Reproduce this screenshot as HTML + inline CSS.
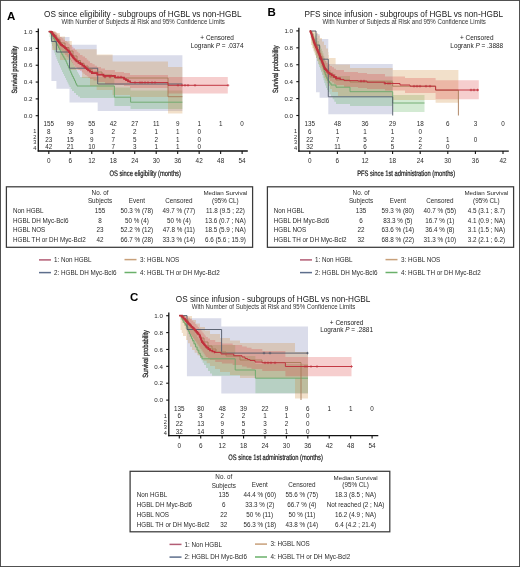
<!DOCTYPE html>
<html><head><meta charset="utf-8"><style>
html,body{margin:0;padding:0;background:#fff;}
svg{display:block;will-change:transform;}
text{font-family:"Liberation Sans", sans-serif;}
</style></head><body>
<svg width="520" height="567" viewBox="0 0 520 567" font-family='"Liberation Sans", sans-serif'>
<rect x="0" y="0" width="520" height="567" fill="#fff"/>
<path d="M51.40,33.00L56.40,33.00L56.40,37.00L69.50,37.00L69.50,44.70L96.70,44.70L96.70,55.30L182.40,55.30L182.40,111.00L97.70,111.00L97.70,102.50L69.50,102.50L69.50,88.70L56.40,88.70L56.40,81.00L51.40,81.00Z" fill="#5560a0" fill-opacity="0.22" stroke="none"/>
<path d="M49.50,31.60L52.00,31.60L52.00,32.00L55.00,32.00L55.00,34.00L56.50,34.00L56.50,36.00L58.00,36.00L58.00,38.00L59.33,38.00L59.33,40.00L60.67,40.00L60.67,42.00L62.00,42.00L62.00,44.00L63.33,44.00L63.33,46.00L64.67,46.00L64.67,48.00L66.00,48.00L66.00,50.00L67.00,50.00L67.00,52.00L68.00,52.00L68.00,54.00L69.00,54.00L69.00,56.00L70.00,56.00L70.00,58.00L71.00,58.00L71.00,60.00L72.00,60.00L72.00,62.00L73.00,62.00L73.00,64.00L74.00,64.00L74.00,66.00L75.00,66.00L75.00,68.00L76.00,68.00L76.00,70.00L77.00,70.00L77.00,71.75L78.00,71.75L78.00,73.50L79.00,73.50L79.00,75.25L80.00,75.25L80.00,77.00L114.40,77.00L114.40,87.60L130.60,87.60L130.60,90.40L182.40,90.40L182.40,109.00L130.60,109.00L130.60,106.00L114.40,106.00L114.40,98.00L80.00,98.00L80.00,96.50L78.00,96.50L78.00,95.00L76.00,95.00L76.00,93.00L74.00,93.00L74.00,91.00L72.00,91.00L72.00,89.00L70.75,89.00L70.75,87.00L69.50,87.00L69.50,85.25L68.62,85.25L68.62,83.50L67.75,83.50L67.75,81.75L66.88,81.75L66.88,80.00L66.00,80.00L66.00,78.00L65.00,78.00L65.00,76.00L64.00,76.00L64.00,74.00L63.00,74.00L63.00,72.00L62.00,72.00L62.00,69.75L61.00,69.75L61.00,67.50L60.00,67.50L60.00,65.25L59.00,65.25L59.00,63.00L58.00,63.00L58.00,61.00L57.25,61.00L57.25,59.00L56.50,59.00L56.50,57.00L55.75,57.00L55.75,55.00L55.00,55.00L55.00,52.75L54.25,52.75L54.25,50.50L53.50,50.50L53.50,48.25L52.75,48.25L52.75,46.00L52.00,46.00L52.00,43.75L51.38,43.75L51.38,41.50L50.75,41.50L50.75,39.25L50.12,39.25L50.12,37.00L49.50,37.00Z" fill="#50aa50" fill-opacity="0.25" stroke="none"/>
<path d="M52.00,31.60L56.00,31.60L56.00,33.00L60.00,33.00L60.00,36.50L65.00,36.50L65.00,41.00L71.80,41.00L71.80,49.20L96.70,49.20L96.70,54.50L112.60,54.50L112.60,61.50L168.00,61.50L168.00,67.00L182.40,67.00L182.40,113.50L168.00,113.50L168.00,97.00L130.00,97.00L130.00,95.00L112.60,95.00L112.60,90.00L96.70,90.00L96.70,86.00L90.00,86.00L90.00,78.00L82.00,78.00L82.00,70.00L70.00,70.00L70.00,60.00L60.00,60.00L60.00,50.00L52.00,50.00Z" fill="#d08c3c" fill-opacity="0.27" stroke="none"/>
<path d="M50.00,31.60L55.00,31.60L55.00,32.00L56.67,32.00L56.67,33.67L58.33,33.67L58.33,35.33L60.00,35.33L60.00,37.00L61.67,37.00L61.67,38.33L63.33,38.33L63.33,39.67L65.00,39.67L65.00,41.00L66.67,41.00L66.67,42.33L68.33,42.33L68.33,43.67L70.00,43.67L70.00,45.00L71.67,45.00L71.67,46.67L73.33,46.67L73.33,48.33L75.00,48.33L75.00,50.00L76.67,50.00L76.67,51.67L78.33,51.67L78.33,53.33L80.00,53.33L80.00,55.00L82.50,55.00L82.50,56.50L85.00,56.50L85.00,58.00L86.67,58.00L86.67,59.67L88.33,59.67L88.33,61.33L90.00,61.33L90.00,63.00L92.33,63.00L92.33,64.33L94.67,64.33L94.67,65.67L97.00,65.67L97.00,67.00L101.00,67.00L101.00,68.50L105.00,68.50L105.00,70.00L115.00,70.00L115.00,72.00L124.00,72.00L124.00,73.00L130.00,73.00L130.00,75.00L168.00,75.00L168.00,77.00L227.80,77.00L227.80,93.60L168.00,93.60L168.00,88.00L130.00,88.00L130.00,86.00L124.00,86.00L124.00,85.00L115.00,85.00L115.00,84.00L105.00,84.00L105.00,82.00L97.00,82.00L97.00,80.50L93.50,80.50L93.50,79.00L90.00,79.00L90.00,77.67L88.33,77.67L88.33,76.33L86.67,76.33L86.67,75.00L85.00,75.00L85.00,73.67L83.33,73.67L83.33,72.33L81.67,72.33L81.67,71.00L80.00,71.00L80.00,69.67L78.33,69.67L78.33,68.33L76.67,68.33L76.67,67.00L75.00,67.00L75.00,65.60L74.00,65.60L74.00,64.20L73.00,64.20L73.00,62.80L72.00,62.80L72.00,61.40L71.00,61.40L71.00,60.00L70.00,60.00L70.00,58.33L68.33,58.33L68.33,56.67L66.67,56.67L66.67,55.00L65.00,55.00L65.00,53.33L63.33,53.33L63.33,51.67L61.67,51.67L61.67,50.00L60.00,50.00L60.00,48.40L59.00,48.40L59.00,46.80L58.00,46.80L58.00,45.20L57.00,45.20L57.00,43.60L56.00,43.60L56.00,42.00L55.00,42.00L55.00,40.50L54.17,40.50L54.17,39.00L53.33,39.00L53.33,37.50L52.50,37.50L52.50,36.00L51.67,36.00L51.67,34.50L50.83,34.50L50.83,33.00L50.00,33.00Z" fill="#dc3c3c" fill-opacity="0.25" stroke="none"/>
<path d="M48.80,31.60H50.50V34.00H51.90V36.25H53.30V38.50H54.35V40.35H55.40V42.20H56.45V44.05H57.50V45.90H58.58V48.02H59.65V50.15H60.72V52.27H61.80V54.40H62.85V56.25H63.90V58.10H64.95V59.95H66.00V61.80H66.80V63.65H67.60V65.50H68.40V67.35H69.20V69.20H70.00V71.05H70.80V72.90H71.60V74.75H72.40V76.60H73.43V78.73H74.47V80.87H75.50V83.00H76.25V84.50H77.00V86.00H114.40V97.20H130.60V102.20H182.40" fill="none" stroke="#6aa86a" stroke-width="0.9" stroke-linejoin="miter"/>
<path d="M48.80,31.60H51.60V41.50H56.40V52.00H69.50V68.20H97.70V84.00H182.40" fill="none" stroke="#505868" stroke-width="0.9" stroke-linejoin="miter"/>
<path d="M48.80,31.60H53.00V35.50H56.50V39.25H60.00V43.00H65.00V47.50H69.00V51.00H73.00V56.00H77.00V60.50H80.50V63.25H84.00V66.00H88.00V69.00H92.00V72.00H102.00V75.00H112.00V76.50H115.00V78.00H168.00V96.70H182.40" fill="none" stroke="#a87a58" stroke-width="0.9" stroke-linejoin="miter"/>
<path d="M48.80,31.60H51.00V32.20H52.00V33.53H53.00V34.85H54.00V36.17H55.00V37.50H55.97V38.72H56.93V39.93H57.90V41.15H58.87V42.37H59.83V43.58H60.80V44.80H62.20V45.90H63.60V47.00H65.00V48.10H66.27V49.37H67.53V50.63H68.80V51.90H69.78V53.25H70.75V54.60H71.72V55.95H72.70V57.30H73.65V58.35H74.60V59.40H75.55V60.45H76.50V61.50H78.45V62.85H80.40V64.20H82.30V65.55H84.20V66.90H85.50V68.07H86.80V69.23H88.10V70.40H90.00V71.75H91.90V73.10H97.30V74.60H103.50V75.80H115.00V77.50H124.00V79.00H126.00V80.17H128.00V81.33H130.00V82.50H168.00V85.30H227.80" fill="none" stroke="#c0303c" stroke-width="0.95" stroke-linejoin="miter"/>
<path d="M48.80,31.60H51.00V32.20H52.00V33.53H53.00V34.85H54.00V36.17H55.00V37.50H55.97V38.72H56.93V39.93H57.90V41.15H58.87V42.37H59.83V43.58H60.80V44.80H62.20V45.90H63.60V47.00H65.00V48.10H66.27V49.37H67.53V50.63H68.80V51.90H69.78V53.25H70.75V54.60H71.72V55.95H72.70V57.30H73.65V58.35H74.60V59.40H75.55V60.45H76.50V61.50H78.45V62.85H80.40V64.20H82.30V65.55H84.20V66.90H85.50V68.07H86.80V69.23H88.10V70.40H90.00V71.75H91.90V73.10H97.30V74.60H103.50V75.80H115.00V77.50H124.00V79.00H126.00V80.17H128.00V81.33H130.00V82.50H130.00" fill="none" stroke="#c0303c" stroke-width="1.7" stroke-linejoin="miter"/>
<path d="M176.70,85.30H179.30M178.00,84.00V86.60" stroke="#c0303c" stroke-width="0.7" fill="none"/>
<path d="M180.70,85.30H183.30M182.00,84.00V86.60" stroke="#c0303c" stroke-width="0.7" fill="none"/>
<path d="M183.70,85.30H186.30M185.00,84.00V86.60" stroke="#c0303c" stroke-width="0.7" fill="none"/>
<path d="M186.70,85.30H189.30M188.00,84.00V86.60" stroke="#c0303c" stroke-width="0.7" fill="none"/>
<path d="M193.70,85.30H196.30M195.00,84.00V86.60" stroke="#c0303c" stroke-width="0.7" fill="none"/>
<path d="M226.70,85.30H229.30M228.00,84.00V86.60" stroke="#c0303c" stroke-width="0.7" fill="none"/>
<path d="M103.70,77.00H106.30M105.00,75.70V78.30" stroke="#c0303c" stroke-width="0.7" fill="none"/>
<path d="M108.70,77.00H111.30M110.00,75.70V78.30" stroke="#c0303c" stroke-width="0.7" fill="none"/>
<path d="M116.70,77.00H119.30M118.00,75.70V78.30" stroke="#c0303c" stroke-width="0.7" fill="none"/>
<path d="M119.70,77.00H122.30M121.00,75.70V78.30" stroke="#c0303c" stroke-width="0.7" fill="none"/>
<path d="M133.70,82.50H136.30M135.00,81.20V83.80" stroke="#c0303c" stroke-width="0.7" fill="none"/>
<path d="M138.70,82.50H141.30M140.00,81.20V83.80" stroke="#c0303c" stroke-width="0.7" fill="none"/>
<path d="M140.70,82.50H143.30M142.00,81.20V83.80" stroke="#c0303c" stroke-width="0.7" fill="none"/>
<path d="M143.70,82.50H146.30M145.00,81.20V83.80" stroke="#c0303c" stroke-width="0.7" fill="none"/>
<path d="M146.70,82.50H149.30M148.00,81.20V83.80" stroke="#c0303c" stroke-width="0.7" fill="none"/>
<path d="M150.70,82.50H153.30M152.00,81.20V83.80" stroke="#c0303c" stroke-width="0.7" fill="none"/>
<path d="M153.70,82.50H156.30M155.00,81.20V83.80" stroke="#c0303c" stroke-width="0.7" fill="none"/>
<text x="6.90" y="20.00" font-size="11.5" font-weight="bold" fill="#000">A</text>
<text x="142.75" y="17.40" font-size="8.55" text-anchor="middle" fill="#1a1a1a" textLength="197.5" lengthAdjust="spacingAndGlyphs">OS since eligibility - subgroups of HGBL vs non-HGBL</text>
<text x="143.15" y="24.40" font-size="6.6" text-anchor="middle" fill="#333" textLength="163.5" lengthAdjust="spacingAndGlyphs">With Number of Subjects at Risk and 95% Confidence Limits</text>
<text x="217.10" y="40.10" font-size="6.45" text-anchor="middle" fill="#1a1a1a">+ Censored</text>
<text x="217.10" y="47.50" font-size="6.45" text-anchor="middle" fill="#1a1a1a">Logrank <tspan font-style="italic">P</tspan> = .0374</text>
<line x1="38.30" y1="28.40" x2="38.30" y2="151.60" stroke="#111" stroke-width="1.3"/>
<line x1="37.70" y1="151.00" x2="247.80" y2="151.00" stroke="#111" stroke-width="1.3"/>
<line x1="35.70" y1="115.70" x2="38.30" y2="115.70" stroke="#111" stroke-width="1.1"/>
<text x="32.40" y="117.90" font-size="6.2" text-anchor="end" fill="#2a2a2a">0.0</text>
<line x1="35.70" y1="98.88" x2="38.30" y2="98.88" stroke="#111" stroke-width="1.1"/>
<text x="32.40" y="101.08" font-size="6.2" text-anchor="end" fill="#2a2a2a">0.2</text>
<line x1="35.70" y1="82.06" x2="38.30" y2="82.06" stroke="#111" stroke-width="1.1"/>
<text x="32.40" y="84.26" font-size="6.2" text-anchor="end" fill="#2a2a2a">0.4</text>
<line x1="35.70" y1="65.24" x2="38.30" y2="65.24" stroke="#111" stroke-width="1.1"/>
<text x="32.40" y="67.44" font-size="6.2" text-anchor="end" fill="#2a2a2a">0.6</text>
<line x1="35.70" y1="48.42" x2="38.30" y2="48.42" stroke="#111" stroke-width="1.1"/>
<text x="32.40" y="50.62" font-size="6.2" text-anchor="end" fill="#2a2a2a">0.8</text>
<line x1="35.70" y1="31.60" x2="38.30" y2="31.60" stroke="#111" stroke-width="1.1"/>
<text x="32.40" y="33.80" font-size="6.2" text-anchor="end" fill="#2a2a2a">1.0</text>
<line x1="48.80" y1="151.00" x2="48.80" y2="154.00" stroke="#111" stroke-width="1.1"/>
<text x="48.80" y="163.10" font-size="6.4" text-anchor="middle" fill="#2a2a2a">0</text>
<line x1="70.28" y1="151.00" x2="70.28" y2="154.00" stroke="#111" stroke-width="1.1"/>
<text x="70.28" y="163.10" font-size="6.4" text-anchor="middle" fill="#2a2a2a">6</text>
<line x1="91.76" y1="151.00" x2="91.76" y2="154.00" stroke="#111" stroke-width="1.1"/>
<text x="91.76" y="163.10" font-size="6.4" text-anchor="middle" fill="#2a2a2a">12</text>
<line x1="113.24" y1="151.00" x2="113.24" y2="154.00" stroke="#111" stroke-width="1.1"/>
<text x="113.24" y="163.10" font-size="6.4" text-anchor="middle" fill="#2a2a2a">18</text>
<line x1="134.72" y1="151.00" x2="134.72" y2="154.00" stroke="#111" stroke-width="1.1"/>
<text x="134.72" y="163.10" font-size="6.4" text-anchor="middle" fill="#2a2a2a">24</text>
<line x1="156.20" y1="151.00" x2="156.20" y2="154.00" stroke="#111" stroke-width="1.1"/>
<text x="156.20" y="163.10" font-size="6.4" text-anchor="middle" fill="#2a2a2a">30</text>
<line x1="177.68" y1="151.00" x2="177.68" y2="154.00" stroke="#111" stroke-width="1.1"/>
<text x="177.68" y="163.10" font-size="6.4" text-anchor="middle" fill="#2a2a2a">36</text>
<line x1="199.16" y1="151.00" x2="199.16" y2="154.00" stroke="#111" stroke-width="1.1"/>
<text x="199.16" y="163.10" font-size="6.4" text-anchor="middle" fill="#2a2a2a">42</text>
<line x1="220.64" y1="151.00" x2="220.64" y2="154.00" stroke="#111" stroke-width="1.1"/>
<text x="220.64" y="163.10" font-size="6.4" text-anchor="middle" fill="#2a2a2a">48</text>
<line x1="242.12" y1="151.00" x2="242.12" y2="154.00" stroke="#111" stroke-width="1.1"/>
<text x="242.12" y="163.10" font-size="6.4" text-anchor="middle" fill="#2a2a2a">54</text>
<text x="145.20" y="175.60" font-size="7.9" text-anchor="middle" fill="#1a1a1a" textLength="71.5" lengthAdjust="spacingAndGlyphs" style="stroke:#1a1a1a;stroke-width:0.22" text-rendering="geometricPrecision">OS since eligibility (months)</text>
<text x="0" y="0" font-size="7.6" text-anchor="middle" fill="#2a2a2a" style="stroke:#2a2a2a;stroke-width:0.28" text-rendering="geometricPrecision" textLength="47.6" lengthAdjust="spacingAndGlyphs" transform="translate(17.20,69.65) rotate(-90)">Survival probability</text>
<text x="48.80" y="126.00" font-size="6.3" text-anchor="middle" fill="#2a2a2a">155</text>
<text x="70.28" y="126.00" font-size="6.3" text-anchor="middle" fill="#2a2a2a">99</text>
<text x="91.76" y="126.00" font-size="6.3" text-anchor="middle" fill="#2a2a2a">55</text>
<text x="113.24" y="126.00" font-size="6.3" text-anchor="middle" fill="#2a2a2a">42</text>
<text x="134.72" y="126.00" font-size="6.3" text-anchor="middle" fill="#2a2a2a">27</text>
<text x="156.20" y="126.00" font-size="6.3" text-anchor="middle" fill="#2a2a2a">11</text>
<text x="177.68" y="126.00" font-size="6.3" text-anchor="middle" fill="#2a2a2a">9</text>
<text x="199.16" y="126.00" font-size="6.3" text-anchor="middle" fill="#2a2a2a">1</text>
<text x="220.64" y="126.00" font-size="6.3" text-anchor="middle" fill="#2a2a2a">1</text>
<text x="242.12" y="126.00" font-size="6.3" text-anchor="middle" fill="#2a2a2a">0</text>
<text x="48.80" y="133.80" font-size="6.3" text-anchor="middle" fill="#2a2a2a">8</text>
<text x="70.28" y="133.80" font-size="6.3" text-anchor="middle" fill="#2a2a2a">3</text>
<text x="91.76" y="133.80" font-size="6.3" text-anchor="middle" fill="#2a2a2a">3</text>
<text x="113.24" y="133.80" font-size="6.3" text-anchor="middle" fill="#2a2a2a">2</text>
<text x="134.72" y="133.80" font-size="6.3" text-anchor="middle" fill="#2a2a2a">2</text>
<text x="156.20" y="133.80" font-size="6.3" text-anchor="middle" fill="#2a2a2a">1</text>
<text x="177.68" y="133.80" font-size="6.3" text-anchor="middle" fill="#2a2a2a">1</text>
<text x="199.16" y="133.80" font-size="6.3" text-anchor="middle" fill="#2a2a2a">0</text>
<text x="48.80" y="141.50" font-size="6.3" text-anchor="middle" fill="#2a2a2a">23</text>
<text x="70.28" y="141.50" font-size="6.3" text-anchor="middle" fill="#2a2a2a">15</text>
<text x="91.76" y="141.50" font-size="6.3" text-anchor="middle" fill="#2a2a2a">9</text>
<text x="113.24" y="141.50" font-size="6.3" text-anchor="middle" fill="#2a2a2a">7</text>
<text x="134.72" y="141.50" font-size="6.3" text-anchor="middle" fill="#2a2a2a">5</text>
<text x="156.20" y="141.50" font-size="6.3" text-anchor="middle" fill="#2a2a2a">2</text>
<text x="177.68" y="141.50" font-size="6.3" text-anchor="middle" fill="#2a2a2a">1</text>
<text x="199.16" y="141.50" font-size="6.3" text-anchor="middle" fill="#2a2a2a">0</text>
<text x="48.80" y="149.20" font-size="6.3" text-anchor="middle" fill="#2a2a2a">42</text>
<text x="70.28" y="149.20" font-size="6.3" text-anchor="middle" fill="#2a2a2a">21</text>
<text x="91.76" y="149.20" font-size="6.3" text-anchor="middle" fill="#2a2a2a">10</text>
<text x="113.24" y="149.20" font-size="6.3" text-anchor="middle" fill="#2a2a2a">7</text>
<text x="134.72" y="149.20" font-size="6.3" text-anchor="middle" fill="#2a2a2a">3</text>
<text x="156.20" y="149.20" font-size="6.3" text-anchor="middle" fill="#2a2a2a">1</text>
<text x="177.68" y="149.20" font-size="6.3" text-anchor="middle" fill="#2a2a2a">1</text>
<text x="199.16" y="149.20" font-size="6.3" text-anchor="middle" fill="#2a2a2a">0</text>
<text x="34.90" y="133.20" font-size="5.6" text-anchor="middle" fill="#2a2a2a">1</text>
<text x="34.90" y="139.00" font-size="5.6" text-anchor="middle" fill="#2a2a2a">2</text>
<text x="34.90" y="144.10" font-size="5.6" text-anchor="middle" fill="#2a2a2a">3</text>
<text x="34.90" y="150.00" font-size="5.6" text-anchor="middle" fill="#2a2a2a">4</text>
<path d="M316.00,34.00L319.60,34.00L319.60,39.10L328.30,39.10L328.30,64.00L392.70,64.00L392.70,114.30L328.30,114.30L328.30,97.80L319.60,97.80L319.60,92.20L316.00,92.20Z" fill="#5560a0" fill-opacity="0.22" stroke="none"/>
<path d="M310.50,31.00L313.00,31.00L313.00,33.00L314.50,33.00L314.50,35.50L316.00,35.50L316.00,38.00L317.50,38.00L317.50,41.00L319.00,41.00L319.00,44.00L320.00,44.00L320.00,46.33L321.00,46.33L321.00,48.67L322.00,48.67L322.00,51.00L322.77,51.00L322.77,53.33L323.53,53.33L323.53,55.67L324.30,55.67L324.30,58.00L325.15,58.00L325.15,60.50L326.00,60.50L326.00,63.00L327.00,63.00L327.00,65.50L328.00,65.50L328.00,68.00L329.50,68.00L329.50,70.00L331.00,70.00L331.00,72.00L333.50,72.00L333.50,74.00L336.00,74.00L336.00,76.00L350.00,76.00L350.00,80.00L392.70,80.00L392.70,95.00L424.50,95.00L424.50,112.00L392.70,112.00L392.70,106.00L350.00,106.00L350.00,104.00L336.00,104.00L336.00,101.67L334.33,101.67L334.33,99.33L332.67,99.33L332.67,97.00L331.00,97.00L331.00,94.50L329.50,94.50L329.50,92.00L328.00,92.00L328.00,90.00L327.00,90.00L327.00,88.00L326.00,88.00L326.00,85.50L325.15,85.50L325.15,83.00L324.30,83.00L324.30,80.33L323.53,80.33L323.53,77.67L322.77,77.67L322.77,75.00L322.00,75.00L322.00,72.33L321.00,72.33L321.00,69.67L320.00,69.67L320.00,67.00L319.00,67.00L319.00,64.00L318.00,64.00L318.00,61.00L317.00,61.00L317.00,58.00L316.00,58.00L316.00,55.50L315.25,55.50L315.25,53.00L314.50,53.00L314.50,50.50L313.75,50.50L313.75,48.00L313.00,48.00L313.00,45.50L312.38,45.50L312.38,43.00L311.75,43.00L311.75,40.50L311.12,40.50L311.12,38.00L310.50,38.00Z" fill="#50aa50" fill-opacity="0.25" stroke="none"/>
<path d="M311.00,31.00L316.00,31.00L316.00,33.00L318.00,33.00L318.00,35.50L320.00,35.50L320.00,38.00L322.00,38.00L322.00,41.50L324.00,41.50L324.00,45.00L326.00,45.00L326.00,48.50L328.00,48.50L328.00,52.00L328.50,52.00L328.50,55.00L329.00,55.00L329.00,58.00L335.60,58.00L335.60,64.50L350.00,64.50L350.00,68.00L392.70,68.00L392.70,69.90L458.40,69.90L458.40,102.80L435.60,102.80L435.60,100.00L392.70,100.00L392.70,96.00L338.00,96.00L338.00,92.00L332.00,92.00L332.00,89.00L330.00,89.00L330.00,86.00L328.00,86.00L328.00,83.33L326.67,83.33L326.67,80.67L325.33,80.67L325.33,78.00L324.00,78.00L324.00,74.67L322.67,74.67L322.67,71.33L321.33,71.33L321.33,68.00L320.00,68.00L320.00,64.67L318.67,64.67L318.67,61.33L317.33,61.33L317.33,58.00L316.00,58.00L316.00,54.75L314.75,54.75L314.75,51.50L313.50,51.50L313.50,48.25L312.25,48.25L312.25,45.00L311.00,45.00Z" fill="#d08c3c" fill-opacity="0.27" stroke="none"/>
<path d="M310.50,31.00L311.38,31.00L311.38,32.50L312.25,32.50L312.25,34.00L313.12,34.00L313.12,35.50L314.00,35.50L314.00,37.00L314.67,37.00L314.67,38.44L315.33,38.44L315.33,39.89L316.00,39.89L316.00,41.33L316.67,41.33L316.67,42.78L317.33,42.78L317.33,44.22L318.00,44.22L318.00,45.67L318.67,45.67L318.67,47.11L319.33,47.11L319.33,48.56L320.00,48.56L320.00,50.00L320.71,50.00L320.71,51.57L321.43,51.57L321.43,53.14L322.14,53.14L322.14,54.71L322.86,54.71L322.86,56.29L323.57,56.29L323.57,57.86L324.29,57.86L324.29,59.43L325.00,59.43L325.00,61.00L326.67,61.00L326.67,62.67L328.33,62.67L328.33,64.33L330.00,64.33L330.00,66.00L332.00,66.00L332.00,67.33L334.00,67.33L334.00,68.67L336.00,68.67L336.00,70.00L344.00,70.00L344.00,72.00L358.00,72.00L358.00,73.00L367.00,73.00L367.00,74.00L385.00,74.00L385.00,76.50L405.00,76.50L405.00,78.00L435.60,78.00L435.60,80.30L478.80,80.30L478.80,99.30L435.60,99.30L435.60,93.00L405.00,93.00L405.00,90.50L385.00,90.50L385.00,89.00L367.00,89.00L367.00,88.00L358.00,88.00L358.00,87.00L344.00,87.00L344.00,85.00L336.00,85.00L336.00,83.67L334.00,83.67L334.00,82.33L332.00,82.33L332.00,81.00L330.00,81.00L330.00,79.33L328.33,79.33L328.33,77.67L326.67,77.67L326.67,76.00L325.00,76.00L325.00,74.56L324.44,74.56L324.44,73.11L323.89,73.11L323.89,71.67L323.33,71.67L323.33,70.22L322.78,70.22L322.78,68.78L322.22,68.78L322.22,67.33L321.67,67.33L321.67,65.89L321.11,65.89L321.11,64.44L320.56,64.44L320.56,63.00L320.00,63.00L320.00,61.44L319.33,61.44L319.33,59.89L318.67,59.89L318.67,58.33L318.00,58.33L318.00,56.78L317.33,56.78L317.33,55.22L316.67,55.22L316.67,53.67L316.00,53.67L316.00,52.11L315.33,52.11L315.33,50.56L314.67,50.56L314.67,49.00L314.00,49.00L314.00,47.50L313.65,47.50L313.65,46.00L313.30,46.00L313.30,44.50L312.95,44.50L312.95,43.00L312.60,43.00L312.60,41.50L312.25,41.50L312.25,40.00L311.90,40.00L311.90,38.50L311.55,38.50L311.55,37.00L311.20,37.00L311.20,35.50L310.85,35.50L310.85,34.00L310.50,34.00Z" fill="#dc3c3c" fill-opacity="0.25" stroke="none"/>
<path d="M309.80,31.00H311.00V34.00H312.00V37.00H313.00V40.00H314.00V42.67H315.00V45.33H316.00V48.00H317.00V50.67H318.00V53.33H319.00V56.00H320.00V58.67H321.00V61.33H322.00V64.00H322.77V66.67H323.53V69.33H324.30V72.00H325.15V74.50H326.00V77.00H327.00V79.00H328.00V81.00H329.50V83.00H331.00V85.00H336.00V87.20H350.00V91.70H392.70V103.00H424.50" fill="none" stroke="#6aa86a" stroke-width="0.9" stroke-linejoin="miter"/>
<path d="M309.80,31.00H316.00V45.10H319.60V59.20H328.30V96.80H392.70V115.50H392.70" fill="none" stroke="#505868" stroke-width="0.9" stroke-linejoin="miter"/>
<path d="M309.80,31.00H311.00V34.00H313.00V39.00H314.50V42.50H316.00V46.00H317.50V49.50H319.00V53.00H320.50V56.50H322.00V60.00H323.00V63.50H324.00V67.00H325.50V70.00H327.00V73.00H330.00V77.00H336.00V80.00H350.00V82.00H392.70V86.20H435.60V90.20H458.40V115.50H458.40" fill="none" stroke="#a87a58" stroke-width="0.9" stroke-linejoin="miter"/>
<path d="M309.80,31.00H310.40V32.00H311.00V33.00H311.40V34.29H311.80V35.58H312.20V36.86H312.60V38.15H313.00V39.44H313.40V40.72H313.80V42.01H314.20V43.30H314.78V44.64H315.36V45.98H315.94V47.32H316.52V48.66H317.10V50.00H317.68V51.34H318.26V52.68H318.84V54.02H319.42V55.36H320.00V56.70H320.48V57.95H320.96V59.20H321.44V60.45H321.92V61.70H322.40V62.95H322.88V64.20H323.36V65.45H323.84V66.70H324.32V67.95H324.80V69.20H326.00V70.40H327.20V71.60H328.40V72.80H329.60V74.00H331.73V75.43H333.87V76.87H336.00V78.30H340.00V79.45H344.00V80.60H358.00V81.10H367.00V82.20H385.00V83.50H400.00V85.00H410.00V86.20H435.60V90.00H478.80" fill="none" stroke="#c0303c" stroke-width="0.95" stroke-linejoin="miter"/>
<path d="M309.80,31.00H310.40V32.00H311.00V33.00H311.40V34.29H311.80V35.58H312.20V36.86H312.60V38.15H313.00V39.44H313.40V40.72H313.80V42.01H314.20V43.30H314.78V44.64H315.36V45.98H315.94V47.32H316.52V48.66H317.10V50.00H317.68V51.34H318.26V52.68H318.84V54.02H319.42V55.36H320.00V56.70H320.48V57.95H320.96V59.20H321.44V60.45H321.92V61.70H322.40V62.95H322.88V64.20H323.36V65.45H323.84V66.70H324.32V67.95H324.80V69.20H326.00V70.40H327.20V71.60H328.40V72.80H329.60V74.00H331.73V75.43H333.87V76.87H336.00V78.30H340.00V79.45H340.00" fill="none" stroke="#c0303c" stroke-width="1.7" stroke-linejoin="miter"/>
<path d="M469.70,90.00H472.30M471.00,88.70V91.30" stroke="#c0303c" stroke-width="0.7" fill="none"/>
<path d="M472.70,90.00H475.30M474.00,88.70V91.30" stroke="#c0303c" stroke-width="0.7" fill="none"/>
<path d="M476.20,90.00H478.80M477.50,88.70V91.30" stroke="#c0303c" stroke-width="0.7" fill="none"/>
<path d="M412.70,86.20H415.30M414.00,84.90V87.50" stroke="#c0303c" stroke-width="0.7" fill="none"/>
<path d="M415.70,86.20H418.30M417.00,84.90V87.50" stroke="#c0303c" stroke-width="0.7" fill="none"/>
<path d="M418.70,86.20H421.30M420.00,84.90V87.50" stroke="#c0303c" stroke-width="0.7" fill="none"/>
<path d="M424.70,86.20H427.30M426.00,84.90V87.50" stroke="#c0303c" stroke-width="0.7" fill="none"/>
<path d="M428.70,86.20H431.30M430.00,84.90V87.50" stroke="#c0303c" stroke-width="0.7" fill="none"/>
<path d="M359.70,81.10H362.30M361.00,79.80V82.40" stroke="#c0303c" stroke-width="0.7" fill="none"/>
<path d="M362.70,81.10H365.30M364.00,79.80V82.40" stroke="#c0303c" stroke-width="0.7" fill="none"/>
<path d="M383.70,83.50H386.30M385.00,82.20V84.80" stroke="#c0303c" stroke-width="0.7" fill="none"/>
<path d="M386.70,83.50H389.30M388.00,82.20V84.80" stroke="#c0303c" stroke-width="0.7" fill="none"/>
<path d="M388.70,83.50H391.30M390.00,82.20V84.80" stroke="#c0303c" stroke-width="0.7" fill="none"/>
<text x="267.60" y="16.30" font-size="11.5" font-weight="bold" fill="#000">B</text>
<text x="403.75" y="17.40" font-size="8.55" text-anchor="middle" fill="#1a1a1a" textLength="198.5" lengthAdjust="spacingAndGlyphs">PFS since infusion - subgroups of HGBL vs non-HGBL</text>
<text x="404.15" y="24.40" font-size="6.6" text-anchor="middle" fill="#333" textLength="163.5" lengthAdjust="spacingAndGlyphs">With Number of Subjects at Risk and 95% Confidence Limits</text>
<text x="476.75" y="40.40" font-size="6.45" text-anchor="middle" fill="#1a1a1a">+ Censored</text>
<text x="476.75" y="47.80" font-size="6.45" text-anchor="middle" fill="#1a1a1a">Logrank <tspan font-style="italic">P</tspan> = .3888</text>
<line x1="298.90" y1="27.70" x2="298.90" y2="151.70" stroke="#111" stroke-width="1.3"/>
<line x1="298.30" y1="151.10" x2="508.80" y2="151.10" stroke="#111" stroke-width="1.3"/>
<line x1="296.30" y1="115.50" x2="298.90" y2="115.50" stroke="#111" stroke-width="1.1"/>
<text x="293.00" y="117.70" font-size="6.2" text-anchor="end" fill="#2a2a2a">0.0</text>
<line x1="296.30" y1="98.58" x2="298.90" y2="98.58" stroke="#111" stroke-width="1.1"/>
<text x="293.00" y="100.78" font-size="6.2" text-anchor="end" fill="#2a2a2a">0.2</text>
<line x1="296.30" y1="81.66" x2="298.90" y2="81.66" stroke="#111" stroke-width="1.1"/>
<text x="293.00" y="83.86" font-size="6.2" text-anchor="end" fill="#2a2a2a">0.4</text>
<line x1="296.30" y1="64.74" x2="298.90" y2="64.74" stroke="#111" stroke-width="1.1"/>
<text x="293.00" y="66.94" font-size="6.2" text-anchor="end" fill="#2a2a2a">0.6</text>
<line x1="296.30" y1="47.82" x2="298.90" y2="47.82" stroke="#111" stroke-width="1.1"/>
<text x="293.00" y="50.02" font-size="6.2" text-anchor="end" fill="#2a2a2a">0.8</text>
<line x1="296.30" y1="30.90" x2="298.90" y2="30.90" stroke="#111" stroke-width="1.1"/>
<text x="293.00" y="33.10" font-size="6.2" text-anchor="end" fill="#2a2a2a">1.0</text>
<line x1="309.80" y1="151.10" x2="309.80" y2="154.10" stroke="#111" stroke-width="1.1"/>
<text x="309.80" y="163.20" font-size="6.4" text-anchor="middle" fill="#2a2a2a">0</text>
<line x1="337.40" y1="151.10" x2="337.40" y2="154.10" stroke="#111" stroke-width="1.1"/>
<text x="337.40" y="163.20" font-size="6.4" text-anchor="middle" fill="#2a2a2a">6</text>
<line x1="365.00" y1="151.10" x2="365.00" y2="154.10" stroke="#111" stroke-width="1.1"/>
<text x="365.00" y="163.20" font-size="6.4" text-anchor="middle" fill="#2a2a2a">12</text>
<line x1="392.60" y1="151.10" x2="392.60" y2="154.10" stroke="#111" stroke-width="1.1"/>
<text x="392.60" y="163.20" font-size="6.4" text-anchor="middle" fill="#2a2a2a">18</text>
<line x1="420.20" y1="151.10" x2="420.20" y2="154.10" stroke="#111" stroke-width="1.1"/>
<text x="420.20" y="163.20" font-size="6.4" text-anchor="middle" fill="#2a2a2a">24</text>
<line x1="447.80" y1="151.10" x2="447.80" y2="154.10" stroke="#111" stroke-width="1.1"/>
<text x="447.80" y="163.20" font-size="6.4" text-anchor="middle" fill="#2a2a2a">30</text>
<line x1="475.40" y1="151.10" x2="475.40" y2="154.10" stroke="#111" stroke-width="1.1"/>
<text x="475.40" y="163.20" font-size="6.4" text-anchor="middle" fill="#2a2a2a">36</text>
<line x1="503.00" y1="151.10" x2="503.00" y2="154.10" stroke="#111" stroke-width="1.1"/>
<text x="503.00" y="163.20" font-size="6.4" text-anchor="middle" fill="#2a2a2a">42</text>
<text x="406.20" y="175.70" font-size="7.9" text-anchor="middle" fill="#1a1a1a" textLength="98.0" lengthAdjust="spacingAndGlyphs" style="stroke:#1a1a1a;stroke-width:0.22" text-rendering="geometricPrecision">PFS since 1st administration (months)</text>
<text x="0" y="0" font-size="7.6" text-anchor="middle" fill="#2a2a2a" style="stroke:#2a2a2a;stroke-width:0.28" text-rendering="geometricPrecision" textLength="47.6" lengthAdjust="spacingAndGlyphs" transform="translate(277.80,69.20) rotate(-90)">Survival probability</text>
<text x="309.80" y="126.00" font-size="6.3" text-anchor="middle" fill="#2a2a2a">135</text>
<text x="337.40" y="126.00" font-size="6.3" text-anchor="middle" fill="#2a2a2a">48</text>
<text x="365.00" y="126.00" font-size="6.3" text-anchor="middle" fill="#2a2a2a">36</text>
<text x="392.60" y="126.00" font-size="6.3" text-anchor="middle" fill="#2a2a2a">29</text>
<text x="420.20" y="126.00" font-size="6.3" text-anchor="middle" fill="#2a2a2a">18</text>
<text x="447.80" y="126.00" font-size="6.3" text-anchor="middle" fill="#2a2a2a">6</text>
<text x="475.40" y="126.00" font-size="6.3" text-anchor="middle" fill="#2a2a2a">3</text>
<text x="503.00" y="126.00" font-size="6.3" text-anchor="middle" fill="#2a2a2a">0</text>
<text x="309.80" y="133.80" font-size="6.3" text-anchor="middle" fill="#2a2a2a">6</text>
<text x="337.40" y="133.80" font-size="6.3" text-anchor="middle" fill="#2a2a2a">1</text>
<text x="365.00" y="133.80" font-size="6.3" text-anchor="middle" fill="#2a2a2a">1</text>
<text x="392.60" y="133.80" font-size="6.3" text-anchor="middle" fill="#2a2a2a">1</text>
<text x="420.20" y="133.80" font-size="6.3" text-anchor="middle" fill="#2a2a2a">0</text>
<text x="309.80" y="141.50" font-size="6.3" text-anchor="middle" fill="#2a2a2a">22</text>
<text x="337.40" y="141.50" font-size="6.3" text-anchor="middle" fill="#2a2a2a">7</text>
<text x="365.00" y="141.50" font-size="6.3" text-anchor="middle" fill="#2a2a2a">5</text>
<text x="392.60" y="141.50" font-size="6.3" text-anchor="middle" fill="#2a2a2a">2</text>
<text x="420.20" y="141.50" font-size="6.3" text-anchor="middle" fill="#2a2a2a">2</text>
<text x="447.80" y="141.50" font-size="6.3" text-anchor="middle" fill="#2a2a2a">1</text>
<text x="475.40" y="141.50" font-size="6.3" text-anchor="middle" fill="#2a2a2a">0</text>
<text x="309.80" y="149.20" font-size="6.3" text-anchor="middle" fill="#2a2a2a">32</text>
<text x="337.40" y="149.20" font-size="6.3" text-anchor="middle" fill="#2a2a2a">11</text>
<text x="365.00" y="149.20" font-size="6.3" text-anchor="middle" fill="#2a2a2a">6</text>
<text x="392.60" y="149.20" font-size="6.3" text-anchor="middle" fill="#2a2a2a">5</text>
<text x="420.20" y="149.20" font-size="6.3" text-anchor="middle" fill="#2a2a2a">2</text>
<text x="447.80" y="149.20" font-size="6.3" text-anchor="middle" fill="#2a2a2a">0</text>
<text x="295.50" y="133.20" font-size="5.6" text-anchor="middle" fill="#2a2a2a">1</text>
<text x="295.50" y="139.00" font-size="5.6" text-anchor="middle" fill="#2a2a2a">2</text>
<text x="295.50" y="144.10" font-size="5.6" text-anchor="middle" fill="#2a2a2a">3</text>
<text x="295.50" y="150.00" font-size="5.6" text-anchor="middle" fill="#2a2a2a">4</text>
<path d="M186.90,318.30L221.30,318.30L221.30,326.50L308.00,326.50L308.00,393.50L221.30,393.50L221.30,376.30L186.90,376.30Z" fill="#5560a0" fill-opacity="0.22" stroke="none"/>
<path d="M180.50,315.60L182.00,315.60L182.00,316.00L185.00,316.00L185.00,318.00L186.50,318.00L186.50,320.00L188.00,320.00L188.00,322.00L189.50,322.00L189.50,324.50L191.00,324.50L191.00,327.00L192.50,327.00L192.50,329.50L194.00,329.50L194.00,332.00L195.50,332.00L195.50,334.50L197.00,334.50L197.00,337.00L198.50,337.00L198.50,339.50L200.00,339.50L200.00,342.00L202.00,342.00L202.00,345.00L235.20,345.00L235.20,356.00L255.40,356.00L255.40,364.00L308.00,364.00L308.00,393.30L255.40,393.30L255.40,375.80L212.00,375.80L212.00,373.40L210.00,373.40L210.00,371.00L208.00,371.00L208.00,368.00L206.00,368.00L206.00,365.00L204.00,365.00L204.00,362.67L202.67,362.67L202.67,360.33L201.33,360.33L201.33,358.00L200.00,358.00L200.00,355.33L198.67,355.33L198.67,352.67L197.33,352.67L197.33,350.00L196.00,350.00L196.00,347.33L194.67,347.33L194.67,344.67L193.33,344.67L193.33,342.00L192.00,342.00L192.00,339.33L190.67,339.33L190.67,336.67L189.33,336.67L189.33,334.00L188.00,334.00L188.00,331.33L186.67,331.33L186.67,328.67L185.33,328.67L185.33,326.00L184.00,326.00L184.00,323.00L182.25,323.00L182.25,320.00L180.50,320.00Z" fill="#50aa50" fill-opacity="0.25" stroke="none"/>
<path d="M180.50,315.60L186.00,315.60L186.00,316.00L192.00,316.00L192.00,320.00L196.00,320.00L196.00,323.50L200.00,323.50L200.00,327.00L205.00,327.00L205.00,330.50L210.00,330.50L210.00,334.00L220.00,334.00L220.00,338.00L230.00,338.00L230.00,340.50L240.00,340.50L240.00,343.00L295.00,343.00L295.00,352.00L308.00,352.00L308.00,398.50L295.00,398.50L295.00,378.00L240.00,378.00L240.00,375.00L230.00,375.00L230.00,372.00L220.00,372.00L220.00,369.00L215.00,369.00L215.00,366.00L210.00,366.00L210.00,363.33L206.67,363.33L206.67,360.67L203.33,360.67L203.33,358.00L200.00,358.00L200.00,355.33L197.33,355.33L197.33,352.67L194.67,352.67L194.67,350.00L192.00,350.00L192.00,346.67L190.00,346.67L190.00,343.33L188.00,343.33L188.00,340.00L186.00,340.00L186.00,336.00L183.00,336.00L183.00,333.00L181.75,333.00L181.75,330.00L180.50,330.00Z" fill="#d08c3c" fill-opacity="0.27" stroke="none"/>
<path d="M180.50,315.60L185.00,315.60L185.00,316.00L187.50,316.00L187.50,317.50L190.00,317.50L190.00,319.00L191.67,319.00L191.67,320.67L193.33,320.67L193.33,322.33L195.00,322.33L195.00,324.00L196.35,324.00L196.35,325.50L197.70,325.50L197.70,327.00L199.05,327.00L199.05,328.50L200.40,328.50L200.40,330.00L201.48,330.00L201.48,331.40L202.56,331.40L202.56,332.80L203.64,332.80L203.64,334.20L204.72,334.20L204.72,335.60L205.80,335.60L205.80,337.00L207.90,337.00L207.90,338.50L210.00,338.50L210.00,340.00L215.20,340.00L215.20,342.00L221.90,342.00L221.90,343.50L232.70,343.50L232.70,345.00L242.10,345.00L242.10,346.50L246.80,346.50L246.80,347.75L251.50,347.75L251.50,349.00L262.30,349.00L262.30,351.00L285.40,351.00L285.40,356.90L351.50,356.90L351.50,376.20L285.40,376.20L285.40,371.00L262.30,371.00L262.30,369.00L251.50,369.00L251.50,367.75L246.80,367.75L246.80,366.50L242.10,366.50L242.10,365.00L232.70,365.00L232.70,363.50L221.90,363.50L221.90,362.00L215.20,362.00L215.20,360.00L210.00,360.00L210.00,358.50L207.90,358.50L207.90,357.00L205.80,357.00L205.80,355.40L204.72,355.40L204.72,353.80L203.64,353.80L203.64,352.20L202.56,352.20L202.56,350.60L201.48,350.60L201.48,349.00L200.40,349.00L200.40,347.40L199.32,347.40L199.32,345.80L198.24,345.80L198.24,344.20L197.16,344.20L197.16,342.60L196.08,342.60L196.08,341.00L195.00,341.00L195.00,339.60L194.00,339.60L194.00,338.20L193.00,338.20L193.00,336.80L192.00,336.80L192.00,335.40L191.00,335.40L191.00,334.00L190.00,334.00L190.00,332.40L189.00,332.40L189.00,330.80L188.00,330.80L188.00,329.20L187.00,329.20L187.00,327.60L186.00,327.60L186.00,326.00L185.00,326.00L185.00,324.40L184.10,324.40L184.10,322.80L183.20,322.80L183.20,321.20L182.30,321.20L182.30,319.60L181.40,319.60L181.40,318.00L180.50,318.00Z" fill="#dc3c3c" fill-opacity="0.25" stroke="none"/>
<path d="M179.30,315.60H182.00V319.00H183.00V321.00H184.00V323.00H185.45V325.00H186.90V327.00H187.77V329.33H188.63V331.67H189.50V334.00H190.50V336.20H191.50V338.40H192.50V340.60H194.00V343.80H195.50V347.00H197.15V350.15H198.80V353.30H200.40V356.05H202.00V358.80H235.20V370.00H255.40V378.20H308.00" fill="none" stroke="#6aa86a" stroke-width="0.9" stroke-linejoin="miter"/>
<path d="M179.30,315.60H187.00V329.50H221.60V353.10H308.00" fill="none" stroke="#505868" stroke-width="0.9" stroke-linejoin="miter"/>
<path d="M179.30,315.60H183.00V319.50H188.00V324.00H191.00V327.50H194.00V331.00H197.00V334.50H200.00V338.00H204.00V342.00H208.00V346.00H212.00V349.00H216.00V352.00H226.00V356.00H240.00V360.00H262.00V362.50H301.00V400.00H301.00" fill="none" stroke="#a87a58" stroke-width="0.9" stroke-linejoin="miter"/>
<path d="M179.30,315.60H182.00V317.00H183.50V318.50H185.00V320.00H186.00V321.10H187.00V322.20H188.00V323.30H189.00V324.40H190.00V325.50H191.25V326.75H192.50V328.00H193.75V329.25H195.00V330.50H196.15V331.82H197.30V333.15H198.45V334.48H199.60V335.80H200.08V337.08H200.56V338.36H201.04V339.64H201.52V340.92H202.00V342.20H202.94V343.30H203.88V344.40H204.82V345.50H205.76V346.60H206.70V347.70H208.35V349.10H210.00V350.50H212.35V351.50H214.70V352.50H221.00V354.00H233.70V355.70H242.00V357.00H245.00V358.50H247.50V359.50H250.00V360.50H255.00V362.00H262.30V362.80H285.40V366.50H351.50" fill="none" stroke="#c0303c" stroke-width="0.95" stroke-linejoin="miter"/>
<path d="M179.30,315.60H182.00V317.00H183.50V318.50H185.00V320.00H186.00V321.10H187.00V322.20H188.00V323.30H189.00V324.40H190.00V325.50H191.25V326.75H192.50V328.00H193.75V329.25H195.00V330.50H196.15V331.82H197.30V333.15H198.45V334.48H199.60V335.80H200.08V337.08H200.56V338.36H201.04V339.64H201.52V340.92H202.00V342.20H202.94V343.30H203.88V344.40H204.82V345.50H205.76V346.60H206.70V347.70H208.35V349.10H210.00V350.50H212.35V351.50H214.70V352.50H215.00" fill="none" stroke="#c0303c" stroke-width="1.7" stroke-linejoin="miter"/>
<path d="M303.70,366.50H306.30M305.00,365.20V367.80" stroke="#c0303c" stroke-width="0.7" fill="none"/>
<path d="M305.70,366.50H308.30M307.00,365.20V367.80" stroke="#c0303c" stroke-width="0.7" fill="none"/>
<path d="M309.70,366.50H312.30M311.00,365.20V367.80" stroke="#c0303c" stroke-width="0.7" fill="none"/>
<path d="M315.70,366.50H318.30M317.00,365.20V367.80" stroke="#c0303c" stroke-width="0.7" fill="none"/>
<path d="M350.20,366.50H352.80M351.50,365.20V367.80" stroke="#c0303c" stroke-width="0.7" fill="none"/>
<path d="M263.70,362.80H266.30M265.00,361.50V364.10" stroke="#c0303c" stroke-width="0.7" fill="none"/>
<path d="M266.70,362.80H269.30M268.00,361.50V364.10" stroke="#c0303c" stroke-width="0.7" fill="none"/>
<path d="M269.70,362.80H272.30M271.00,361.50V364.10" stroke="#c0303c" stroke-width="0.7" fill="none"/>
<path d="M273.70,362.80H276.30M275.00,361.50V364.10" stroke="#c0303c" stroke-width="0.7" fill="none"/>
<path d="M262.70,353.10H265.30M264.00,351.80V354.40" stroke="#505868" stroke-width="0.7" fill="none"/>
<path d="M268.70,353.10H271.30M270.00,351.80V354.40" stroke="#505868" stroke-width="0.7" fill="none"/>
<path d="M306.20,353.10H308.80M307.50,351.80V354.40" stroke="#505868" stroke-width="0.7" fill="none"/>
<text x="130.00" y="301.10" font-size="11.5" font-weight="bold" fill="#000">C</text>
<text x="273.10" y="301.90" font-size="8.55" text-anchor="middle" fill="#1a1a1a" textLength="194.5" lengthAdjust="spacingAndGlyphs">OS since infusion - subgroups of HGBL vs non-HGBL</text>
<text x="273.50" y="308.90" font-size="6.6" text-anchor="middle" fill="#333" textLength="163.5" lengthAdjust="spacingAndGlyphs">With Number of Subjects at Risk and 95% Confidence Limits</text>
<text x="346.60" y="324.90" font-size="6.45" text-anchor="middle" fill="#1a1a1a">+ Censored</text>
<text x="346.60" y="332.30" font-size="6.45" text-anchor="middle" fill="#1a1a1a">Logrank <tspan font-style="italic">P</tspan> = .2881</text>
<line x1="168.80" y1="312.50" x2="168.80" y2="436.20" stroke="#111" stroke-width="1.3"/>
<line x1="168.20" y1="435.60" x2="378.30" y2="435.60" stroke="#111" stroke-width="1.3"/>
<line x1="166.20" y1="400.10" x2="168.80" y2="400.10" stroke="#111" stroke-width="1.1"/>
<text x="162.90" y="402.30" font-size="6.2" text-anchor="end" fill="#2a2a2a">0.0</text>
<line x1="166.20" y1="383.22" x2="168.80" y2="383.22" stroke="#111" stroke-width="1.1"/>
<text x="162.90" y="385.42" font-size="6.2" text-anchor="end" fill="#2a2a2a">0.2</text>
<line x1="166.20" y1="366.34" x2="168.80" y2="366.34" stroke="#111" stroke-width="1.1"/>
<text x="162.90" y="368.54" font-size="6.2" text-anchor="end" fill="#2a2a2a">0.4</text>
<line x1="166.20" y1="349.46" x2="168.80" y2="349.46" stroke="#111" stroke-width="1.1"/>
<text x="162.90" y="351.66" font-size="6.2" text-anchor="end" fill="#2a2a2a">0.6</text>
<line x1="166.20" y1="332.58" x2="168.80" y2="332.58" stroke="#111" stroke-width="1.1"/>
<text x="162.90" y="334.78" font-size="6.2" text-anchor="end" fill="#2a2a2a">0.8</text>
<line x1="166.20" y1="315.70" x2="168.80" y2="315.70" stroke="#111" stroke-width="1.1"/>
<text x="162.90" y="317.90" font-size="6.2" text-anchor="end" fill="#2a2a2a">1.0</text>
<line x1="179.30" y1="435.60" x2="179.30" y2="438.60" stroke="#111" stroke-width="1.1"/>
<text x="179.30" y="447.70" font-size="6.4" text-anchor="middle" fill="#2a2a2a">0</text>
<line x1="200.72" y1="435.60" x2="200.72" y2="438.60" stroke="#111" stroke-width="1.1"/>
<text x="200.72" y="447.70" font-size="6.4" text-anchor="middle" fill="#2a2a2a">6</text>
<line x1="222.14" y1="435.60" x2="222.14" y2="438.60" stroke="#111" stroke-width="1.1"/>
<text x="222.14" y="447.70" font-size="6.4" text-anchor="middle" fill="#2a2a2a">12</text>
<line x1="243.56" y1="435.60" x2="243.56" y2="438.60" stroke="#111" stroke-width="1.1"/>
<text x="243.56" y="447.70" font-size="6.4" text-anchor="middle" fill="#2a2a2a">18</text>
<line x1="264.98" y1="435.60" x2="264.98" y2="438.60" stroke="#111" stroke-width="1.1"/>
<text x="264.98" y="447.70" font-size="6.4" text-anchor="middle" fill="#2a2a2a">24</text>
<line x1="286.40" y1="435.60" x2="286.40" y2="438.60" stroke="#111" stroke-width="1.1"/>
<text x="286.40" y="447.70" font-size="6.4" text-anchor="middle" fill="#2a2a2a">30</text>
<line x1="307.82" y1="435.60" x2="307.82" y2="438.60" stroke="#111" stroke-width="1.1"/>
<text x="307.82" y="447.70" font-size="6.4" text-anchor="middle" fill="#2a2a2a">36</text>
<line x1="329.24" y1="435.60" x2="329.24" y2="438.60" stroke="#111" stroke-width="1.1"/>
<text x="329.24" y="447.70" font-size="6.4" text-anchor="middle" fill="#2a2a2a">42</text>
<line x1="350.66" y1="435.60" x2="350.66" y2="438.60" stroke="#111" stroke-width="1.1"/>
<text x="350.66" y="447.70" font-size="6.4" text-anchor="middle" fill="#2a2a2a">48</text>
<line x1="372.08" y1="435.60" x2="372.08" y2="438.60" stroke="#111" stroke-width="1.1"/>
<text x="372.08" y="447.70" font-size="6.4" text-anchor="middle" fill="#2a2a2a">54</text>
<text x="275.60" y="460.20" font-size="7.9" text-anchor="middle" fill="#1a1a1a" textLength="94.5" lengthAdjust="spacingAndGlyphs" style="stroke:#1a1a1a;stroke-width:0.22" text-rendering="geometricPrecision">OS since 1st administration (months)</text>
<text x="0" y="0" font-size="7.6" text-anchor="middle" fill="#2a2a2a" style="stroke:#2a2a2a;stroke-width:0.28" text-rendering="geometricPrecision" textLength="47.6" lengthAdjust="spacingAndGlyphs" transform="translate(147.70,353.90) rotate(-90)">Survival probability</text>
<text x="179.30" y="410.50" font-size="6.3" text-anchor="middle" fill="#2a2a2a">135</text>
<text x="200.72" y="410.50" font-size="6.3" text-anchor="middle" fill="#2a2a2a">80</text>
<text x="222.14" y="410.50" font-size="6.3" text-anchor="middle" fill="#2a2a2a">48</text>
<text x="243.56" y="410.50" font-size="6.3" text-anchor="middle" fill="#2a2a2a">39</text>
<text x="264.98" y="410.50" font-size="6.3" text-anchor="middle" fill="#2a2a2a">22</text>
<text x="286.40" y="410.50" font-size="6.3" text-anchor="middle" fill="#2a2a2a">9</text>
<text x="307.82" y="410.50" font-size="6.3" text-anchor="middle" fill="#2a2a2a">6</text>
<text x="329.24" y="410.50" font-size="6.3" text-anchor="middle" fill="#2a2a2a">1</text>
<text x="350.66" y="410.50" font-size="6.3" text-anchor="middle" fill="#2a2a2a">1</text>
<text x="372.08" y="410.50" font-size="6.3" text-anchor="middle" fill="#2a2a2a">0</text>
<text x="179.30" y="418.30" font-size="6.3" text-anchor="middle" fill="#2a2a2a">6</text>
<text x="200.72" y="418.30" font-size="6.3" text-anchor="middle" fill="#2a2a2a">3</text>
<text x="222.14" y="418.30" font-size="6.3" text-anchor="middle" fill="#2a2a2a">2</text>
<text x="243.56" y="418.30" font-size="6.3" text-anchor="middle" fill="#2a2a2a">2</text>
<text x="264.98" y="418.30" font-size="6.3" text-anchor="middle" fill="#2a2a2a">1</text>
<text x="286.40" y="418.30" font-size="6.3" text-anchor="middle" fill="#2a2a2a">1</text>
<text x="307.82" y="418.30" font-size="6.3" text-anchor="middle" fill="#2a2a2a">0</text>
<text x="179.30" y="426.00" font-size="6.3" text-anchor="middle" fill="#2a2a2a">22</text>
<text x="200.72" y="426.00" font-size="6.3" text-anchor="middle" fill="#2a2a2a">13</text>
<text x="222.14" y="426.00" font-size="6.3" text-anchor="middle" fill="#2a2a2a">9</text>
<text x="243.56" y="426.00" font-size="6.3" text-anchor="middle" fill="#2a2a2a">5</text>
<text x="264.98" y="426.00" font-size="6.3" text-anchor="middle" fill="#2a2a2a">3</text>
<text x="286.40" y="426.00" font-size="6.3" text-anchor="middle" fill="#2a2a2a">2</text>
<text x="307.82" y="426.00" font-size="6.3" text-anchor="middle" fill="#2a2a2a">0</text>
<text x="179.30" y="433.70" font-size="6.3" text-anchor="middle" fill="#2a2a2a">32</text>
<text x="200.72" y="433.70" font-size="6.3" text-anchor="middle" fill="#2a2a2a">14</text>
<text x="222.14" y="433.70" font-size="6.3" text-anchor="middle" fill="#2a2a2a">8</text>
<text x="243.56" y="433.70" font-size="6.3" text-anchor="middle" fill="#2a2a2a">5</text>
<text x="264.98" y="433.70" font-size="6.3" text-anchor="middle" fill="#2a2a2a">3</text>
<text x="286.40" y="433.70" font-size="6.3" text-anchor="middle" fill="#2a2a2a">1</text>
<text x="307.82" y="433.70" font-size="6.3" text-anchor="middle" fill="#2a2a2a">0</text>
<text x="165.40" y="417.70" font-size="5.6" text-anchor="middle" fill="#2a2a2a">1</text>
<text x="165.40" y="423.50" font-size="5.6" text-anchor="middle" fill="#2a2a2a">2</text>
<text x="165.40" y="428.60" font-size="5.6" text-anchor="middle" fill="#2a2a2a">3</text>
<text x="165.40" y="434.50" font-size="5.6" text-anchor="middle" fill="#2a2a2a">4</text>
<rect x="6.40" y="186.80" width="246.20" height="60.50" fill="none" stroke="#3a3a3a" stroke-width="1.25"/>
<text x="100.00" y="194.70" font-size="6.3" text-anchor="middle" fill="#2a2a2a">No. of</text>
<text x="100.00" y="203.20" font-size="6.3" text-anchor="middle" fill="#2a2a2a">Subjects</text>
<text x="136.90" y="202.70" font-size="6.3" text-anchor="middle" fill="#2a2a2a">Event</text>
<text x="178.90" y="202.70" font-size="6.3" text-anchor="middle" fill="#2a2a2a">Censored</text>
<text x="225.40" y="195.40" font-size="6.2" text-anchor="middle" fill="#2a2a2a">Median Survival</text>
<text x="225.40" y="202.70" font-size="6.3" text-anchor="middle" fill="#2a2a2a">(95% CL)</text>
<text x="13.00" y="212.70" font-size="6.3" fill="#2a2a2a">Non HGBL</text>
<text x="100.00" y="212.70" font-size="6.3" text-anchor="middle" fill="#2a2a2a">155</text>
<text x="136.90" y="212.70" font-size="6.3" text-anchor="middle" fill="#2a2a2a">50.3 % (78)</text>
<text x="178.90" y="212.70" font-size="6.3" text-anchor="middle" fill="#2a2a2a">49.7 % (77)</text>
<text x="225.40" y="212.70" font-size="6.3" text-anchor="middle" fill="#2a2a2a">11.8 (9.5 ; 22)</text>
<text x="13.00" y="222.50" font-size="6.3" fill="#2a2a2a">HGBL DH Myc-Bcl6</text>
<text x="100.00" y="222.50" font-size="6.3" text-anchor="middle" fill="#2a2a2a">8</text>
<text x="136.90" y="222.50" font-size="6.3" text-anchor="middle" fill="#2a2a2a">50 % (4)</text>
<text x="178.90" y="222.50" font-size="6.3" text-anchor="middle" fill="#2a2a2a">50 % (4)</text>
<text x="225.40" y="222.50" font-size="6.3" text-anchor="middle" fill="#2a2a2a">13.6 (0.7 ; NA)</text>
<text x="13.00" y="232.40" font-size="6.3" fill="#2a2a2a">HGBL NOS</text>
<text x="100.00" y="232.40" font-size="6.3" text-anchor="middle" fill="#2a2a2a">23</text>
<text x="136.90" y="232.40" font-size="6.3" text-anchor="middle" fill="#2a2a2a">52.2 % (12)</text>
<text x="178.90" y="232.40" font-size="6.3" text-anchor="middle" fill="#2a2a2a">47.8 % (11)</text>
<text x="225.40" y="232.40" font-size="6.3" text-anchor="middle" fill="#2a2a2a">18.5 (5.9 ; NA)</text>
<text x="13.00" y="242.30" font-size="6.3" fill="#2a2a2a">HGBL TH or DH Myc-Bcl2</text>
<text x="100.00" y="242.30" font-size="6.3" text-anchor="middle" fill="#2a2a2a">42</text>
<text x="136.90" y="242.30" font-size="6.3" text-anchor="middle" fill="#2a2a2a">66.7 % (28)</text>
<text x="178.90" y="242.30" font-size="6.3" text-anchor="middle" fill="#2a2a2a">33.3 % (14)</text>
<text x="225.40" y="242.30" font-size="6.3" text-anchor="middle" fill="#2a2a2a">6.6 (5.6 ; 15.9)</text>
<rect x="267.40" y="186.80" width="246.20" height="60.50" fill="none" stroke="#3a3a3a" stroke-width="1.25"/>
<text x="361.00" y="194.70" font-size="6.3" text-anchor="middle" fill="#2a2a2a">No. of</text>
<text x="361.00" y="203.20" font-size="6.3" text-anchor="middle" fill="#2a2a2a">Subjects</text>
<text x="397.90" y="202.70" font-size="6.3" text-anchor="middle" fill="#2a2a2a">Event</text>
<text x="439.90" y="202.70" font-size="6.3" text-anchor="middle" fill="#2a2a2a">Censored</text>
<text x="486.40" y="195.40" font-size="6.2" text-anchor="middle" fill="#2a2a2a">Median Survival</text>
<text x="486.40" y="202.70" font-size="6.3" text-anchor="middle" fill="#2a2a2a">(95% CL)</text>
<text x="273.80" y="212.70" font-size="6.3" fill="#2a2a2a">Non HGBL</text>
<text x="361.00" y="212.70" font-size="6.3" text-anchor="middle" fill="#2a2a2a">135</text>
<text x="397.90" y="212.70" font-size="6.3" text-anchor="middle" fill="#2a2a2a">59.3 % (80)</text>
<text x="439.90" y="212.70" font-size="6.3" text-anchor="middle" fill="#2a2a2a">40.7 % (55)</text>
<text x="486.40" y="212.70" font-size="6.3" text-anchor="middle" fill="#2a2a2a">4.5 (3.1 ; 8.7)</text>
<text x="273.80" y="222.50" font-size="6.3" fill="#2a2a2a">HGBL DH Myc-Bcl6</text>
<text x="361.00" y="222.50" font-size="6.3" text-anchor="middle" fill="#2a2a2a">6</text>
<text x="397.90" y="222.50" font-size="6.3" text-anchor="middle" fill="#2a2a2a">83.3 % (5)</text>
<text x="439.90" y="222.50" font-size="6.3" text-anchor="middle" fill="#2a2a2a">16.7 % (1)</text>
<text x="486.40" y="222.50" font-size="6.3" text-anchor="middle" fill="#2a2a2a">4.1 (0.9 ; NA)</text>
<text x="273.80" y="232.40" font-size="6.3" fill="#2a2a2a">HGBL NOS</text>
<text x="361.00" y="232.40" font-size="6.3" text-anchor="middle" fill="#2a2a2a">22</text>
<text x="397.90" y="232.40" font-size="6.3" text-anchor="middle" fill="#2a2a2a">63.6 % (14)</text>
<text x="439.90" y="232.40" font-size="6.3" text-anchor="middle" fill="#2a2a2a">36.4 % (8)</text>
<text x="486.40" y="232.40" font-size="6.3" text-anchor="middle" fill="#2a2a2a">3.1 (1.5 ; NA)</text>
<text x="273.80" y="242.30" font-size="6.3" fill="#2a2a2a">HGBL TH or DH Myc-Bcl2</text>
<text x="361.00" y="242.30" font-size="6.3" text-anchor="middle" fill="#2a2a2a">32</text>
<text x="397.90" y="242.30" font-size="6.3" text-anchor="middle" fill="#2a2a2a">68.8 % (22)</text>
<text x="439.90" y="242.30" font-size="6.3" text-anchor="middle" fill="#2a2a2a">31.3 % (10)</text>
<text x="486.40" y="242.30" font-size="6.3" text-anchor="middle" fill="#2a2a2a">3.2 (2.1 ; 6.2)</text>
<rect x="130.10" y="471.30" width="259.70" height="60.50" fill="none" stroke="#3a3a3a" stroke-width="1.25"/>
<text x="223.75" y="479.20" font-size="6.3" text-anchor="middle" fill="#2a2a2a">No. of</text>
<text x="223.75" y="487.70" font-size="6.3" text-anchor="middle" fill="#2a2a2a">Subjects</text>
<text x="259.75" y="487.20" font-size="6.3" text-anchor="middle" fill="#2a2a2a">Event</text>
<text x="301.90" y="487.20" font-size="6.3" text-anchor="middle" fill="#2a2a2a">Censored</text>
<text x="355.60" y="479.90" font-size="6.2" text-anchor="middle" fill="#2a2a2a">Median Survival</text>
<text x="355.60" y="487.20" font-size="6.3" text-anchor="middle" fill="#2a2a2a">(95% CL)</text>
<text x="136.70" y="497.20" font-size="6.3" fill="#2a2a2a">Non HGBL</text>
<text x="223.75" y="497.20" font-size="6.3" text-anchor="middle" fill="#2a2a2a">135</text>
<text x="259.75" y="497.20" font-size="6.3" text-anchor="middle" fill="#2a2a2a">44.4 % (60)</text>
<text x="301.90" y="497.20" font-size="6.3" text-anchor="middle" fill="#2a2a2a">55.6 % (75)</text>
<text x="355.60" y="497.20" font-size="6.3" text-anchor="middle" fill="#2a2a2a">18.3 (8.5 ; NA)</text>
<text x="136.70" y="507.00" font-size="6.3" fill="#2a2a2a">HGBL DH Myc-Bcl6</text>
<text x="223.75" y="507.00" font-size="6.3" text-anchor="middle" fill="#2a2a2a">6</text>
<text x="259.75" y="507.00" font-size="6.3" text-anchor="middle" fill="#2a2a2a">33.3 % (2)</text>
<text x="301.90" y="507.00" font-size="6.3" text-anchor="middle" fill="#2a2a2a">66.7 % (4)</text>
<text x="355.60" y="507.00" font-size="6.3" text-anchor="middle" fill="#2a2a2a">Not reached (2 ; NA)</text>
<text x="136.70" y="516.90" font-size="6.3" fill="#2a2a2a">HGBL NOS</text>
<text x="223.75" y="516.90" font-size="6.3" text-anchor="middle" fill="#2a2a2a">22</text>
<text x="259.75" y="516.90" font-size="6.3" text-anchor="middle" fill="#2a2a2a">50 % (11)</text>
<text x="301.90" y="516.90" font-size="6.3" text-anchor="middle" fill="#2a2a2a">50 % (11)</text>
<text x="355.60" y="516.90" font-size="6.3" text-anchor="middle" fill="#2a2a2a">16.2 (4.9 ; NA)</text>
<text x="136.70" y="526.80" font-size="6.3" fill="#2a2a2a">HGBL TH or DH Myc-Bcl2</text>
<text x="223.75" y="526.80" font-size="6.3" text-anchor="middle" fill="#2a2a2a">32</text>
<text x="259.75" y="526.80" font-size="6.3" text-anchor="middle" fill="#2a2a2a">56.3 % (18)</text>
<text x="301.90" y="526.80" font-size="6.3" text-anchor="middle" fill="#2a2a2a">43.8 % (14)</text>
<text x="355.60" y="526.80" font-size="6.3" text-anchor="middle" fill="#2a2a2a">6.4 (4.2 ; 21.4)</text>
<line x1="39.00" y1="259.90" x2="51.00" y2="259.90" stroke="#b35d75" stroke-width="1.5"/>
<text x="54.00" y="262.10" font-size="6.3" fill="#2a2a2a">1: Non HGBL</text>
<line x1="39.00" y1="272.60" x2="51.00" y2="272.60" stroke="#5d6e8c" stroke-width="1.5"/>
<text x="54.00" y="274.80" font-size="6.3" fill="#2a2a2a">2: HGBL DH Myc-Bcl6</text>
<line x1="124.50" y1="259.60" x2="136.50" y2="259.60" stroke="#c8a07a" stroke-width="1.5"/>
<text x="140.00" y="261.80" font-size="6.3" fill="#2a2a2a">3: HGBL NOS</text>
<line x1="124.50" y1="272.50" x2="136.50" y2="272.50" stroke="#6ab06a" stroke-width="1.5"/>
<text x="140.00" y="274.70" font-size="6.3" fill="#2a2a2a">4: HGBL TH or DH Myc-Bcl2</text>
<line x1="300.00" y1="259.90" x2="312.00" y2="259.90" stroke="#b35d75" stroke-width="1.5"/>
<text x="315.00" y="262.10" font-size="6.3" fill="#2a2a2a">1: Non HGBL</text>
<line x1="300.00" y1="272.60" x2="312.00" y2="272.60" stroke="#5d6e8c" stroke-width="1.5"/>
<text x="315.00" y="274.80" font-size="6.3" fill="#2a2a2a">2: HGBL DH Myc-Bcl6</text>
<line x1="385.50" y1="259.60" x2="397.50" y2="259.60" stroke="#c8a07a" stroke-width="1.5"/>
<text x="401.00" y="261.80" font-size="6.3" fill="#2a2a2a">3: HGBL NOS</text>
<line x1="385.50" y1="272.50" x2="397.50" y2="272.50" stroke="#6ab06a" stroke-width="1.5"/>
<text x="401.00" y="274.70" font-size="6.3" fill="#2a2a2a">4: HGBL TH or DH Myc-Bcl2</text>
<line x1="169.50" y1="544.40" x2="181.50" y2="544.40" stroke="#b35d75" stroke-width="1.5"/>
<text x="184.50" y="546.60" font-size="6.3" fill="#2a2a2a">1: Non HGBL</text>
<line x1="169.50" y1="557.10" x2="181.50" y2="557.10" stroke="#5d6e8c" stroke-width="1.5"/>
<text x="184.50" y="559.30" font-size="6.3" fill="#2a2a2a">2: HGBL DH Myc-Bcl6</text>
<line x1="255.00" y1="544.10" x2="267.00" y2="544.10" stroke="#c8a07a" stroke-width="1.5"/>
<text x="270.50" y="546.30" font-size="6.3" fill="#2a2a2a">3: HGBL NOS</text>
<line x1="255.00" y1="557.00" x2="267.00" y2="557.00" stroke="#6ab06a" stroke-width="1.5"/>
<text x="270.50" y="559.20" font-size="6.3" fill="#2a2a2a">4: HGBL TH or DH Myc-Bcl2</text>
<rect x="0.45" y="0.45" width="519.1" height="566.1" fill="none" stroke="#444" stroke-width="0.95"/>
</svg>
</body></html>
